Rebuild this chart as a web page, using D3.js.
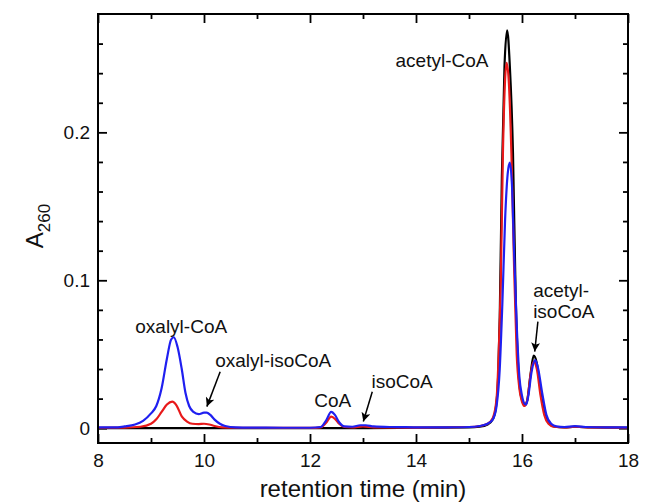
<!DOCTYPE html>
<html>
<head>
<meta charset="utf-8">
<script src="https://cdn.jsdelivr.net/npm/d3@7"></script>
<style>
  body { margin: 0; background: #fff; }
  svg { font-family: "Liberation Sans", Arial, sans-serif; }
</style>
</head>
<body>
<svg id="chart" width="652" height="503"></svg>
<script>
// chromatogram traces (retention time in min, A260)
const blackTime = [8.0, 9.0, 10.0, 11.0, 12.0, 13.0, 14.0, 15.0, 15.2, 15.35, 15.45, 15.5, 15.55, 15.58, 15.62, 15.67, 15.72, 15.77, 15.83, 15.88, 15.93, 15.98, 16.05, 16.1, 16.16, 16.22, 16.28, 16.35, 16.43, 16.52, 16.62, 16.8, 17.0, 17.3, 18.0]
const blackA    = [0, 0, 0, 0, 0, 0, 0.0003, 0.0005, 0.001, 0.0025, 0.006, 0.012, 0.035, 0.075, 0.17, 0.245, 0.269, 0.245, 0.186, 0.09, 0.04, 0.022, 0.0155, 0.019, 0.036, 0.049, 0.044, 0.026, 0.01, 0.003, 0.001, 0.0005, 0.001, 0.0005, 0.0003]

const redTime = [8.0, 8.5, 8.8, 9.0, 9.1, 9.2, 9.3, 9.4, 9.48, 9.58, 9.68, 9.78, 9.9, 10.0, 10.1, 10.2, 10.35, 10.6, 11.0, 12.0, 12.2, 12.3, 12.4, 12.48, 12.55, 12.65, 12.8, 13.0, 13.2, 14.0, 15.0, 15.2, 15.35, 15.45, 15.52, 15.56, 15.6, 15.64, 15.68, 15.71, 15.75, 15.8, 15.85, 15.9, 15.95, 16.0, 16.05, 16.1, 16.16, 16.22, 16.28, 16.35, 16.42, 16.5, 16.6, 16.8, 17.0, 17.3, 18.0]
const redA    = [0.0003, 0.0004, 0.001, 0.003, 0.006, 0.011, 0.016, 0.018, 0.0155, 0.008, 0.0045, 0.003, 0.0028, 0.003, 0.0025, 0.0015, 0.0006, 0.0003, 0.0003, 0.0002, 0.0006, 0.0035, 0.0078, 0.006, 0.003, 0.0008, 0.0005, 0.0012, 0.0006, 0.0004, 0.0008, 0.0015, 0.003, 0.007, 0.02, 0.05, 0.1, 0.186, 0.235, 0.247, 0.235, 0.186, 0.11, 0.05, 0.027, 0.018, 0.015, 0.019, 0.036, 0.045, 0.04, 0.022, 0.009, 0.003, 0.001, 0.0005, 0.001, 0.0005, 0.0003]

const blueTime = [8.0, 8.3, 8.5, 8.7, 8.85, 9.0, 9.1, 9.2, 9.3, 9.38, 9.43, 9.5, 9.58, 9.65, 9.72, 9.8, 9.9, 10.0, 10.05, 10.12, 10.2, 10.3, 10.4, 10.6, 11.0, 11.5, 12.0, 12.2, 12.3, 12.4, 12.47, 12.55, 12.65, 12.8, 12.95, 13.05, 13.2, 13.5, 13.8, 14.2, 14.6, 15.0, 15.2, 15.35, 15.45, 15.52, 15.58, 15.63, 15.68, 15.73, 15.77, 15.81, 15.85, 15.9, 15.95, 16.0, 16.05, 16.08, 16.12, 16.18, 16.25, 16.3, 16.38, 16.46, 16.55, 16.65, 16.8, 17.0, 17.2, 17.6, 18.0]
const blueA    = [0.0005, 0.0005, 0.0012, 0.0025, 0.005, 0.01, 0.015, 0.027, 0.047, 0.06, 0.0615, 0.055, 0.04, 0.024, 0.015, 0.011, 0.0095, 0.0105, 0.0105, 0.009, 0.0058, 0.003, 0.0015, 0.0006, 0.0004, 0.0003, 0.0003, 0.0008, 0.005, 0.011, 0.009, 0.004, 0.0012, 0.001, 0.002, 0.002, 0.0012, 0.0008, 0.0007, 0.0005, 0.0006, 0.0008, 0.0015, 0.003, 0.006, 0.015, 0.04, 0.085, 0.14, 0.172, 0.1795, 0.165, 0.12, 0.07, 0.035, 0.022, 0.0165, 0.016, 0.022, 0.038, 0.046, 0.041, 0.024, 0.009, 0.003, 0.0012, 0.0008, 0.0014, 0.0008, 0.0005, 0.0005]

const xMajorTicks = [8, 10, 12, 14, 16, 18]
const xMinorTicks = [9, 11, 13, 15, 17]
const yMajorTicks = [0, 0.1, 0.2]
const yMinorTicks = [0.02, 0.04, 0.06, 0.08, 0.12, 0.14, 0.16, 0.18, 0.22, 0.24, 0.26]

// peak labels: text, anchor point (t, A), optional arrow from -> to
const labels = [
  { lines: ["acetyl-CoA"], t: 14.49, a: 0.249, anchor: "middle" },
  { lines: ["oxalyl-CoA"], t: 9.57, a: 0.0686, anchor: "middle" },
  { lines: ["oxalyl-isoCoA"], t: 10.21, a: 0.0461, anchor: "start", arrow: [[10.305, 0.0382], [10.054, 0.0146]] },
  { lines: ["CoA"], t: 12.43, a: 0.0191, anchor: "middle" },
  { lines: ["isoCoA"], t: 13.16, a: 0.0315, anchor: "start", arrow: [[13.175, 0.0247], [13.006, 0.0045]] },
  { lines: ["acetyl-", "isoCoA"], t: 16.21, a: 0.0934, anchor: "start", arrow: [[16.3, 0.072], [16.24, 0.0518]] }
]

const width = 652
const height = 503
const margin = { top: 14, right: 24, bottom: 60, left: 98 }
const innerW = width - margin.left - margin.right
const innerH = height - margin.top - margin.bottom

const svg = d3.select("#chart")
const g = svg.append("g").attr("transform", `translate(${margin.left},${margin.top})`)

const x = d3.scaleLinear().domain([8, 18]).range([0, innerW])
const y = d3.scaleLinear().domain([-0.01, 0.28]).range([innerH, 0])

svg.append("defs").append("marker")
  .attr("id", "arrowhead")
  .attr("viewBox", "0 0 10 10")
  .attr("refX", 10).attr("refY", 5)
  .attr("markerWidth", 10).attr("markerHeight", 9)
  .attr("markerUnits", "userSpaceOnUse")
  .attr("orient", "auto")
  .append("path").attr("d", "M0,0 L10,5 L0,10 L2.5,5 Z").attr("fill", "#000")

function styleAxis(sel) {
  sel.select(".domain").remove()
  sel.selectAll(".tick line").attr("stroke", "#000").attr("stroke-width", 1.8)
  sel.selectAll(".tick text").attr("font-size", 19).attr("fill", "#111")
    .attr("font-family", "'Liberation Sans', Arial, sans-serif")
}

// bottom
g.append("g").attr("transform", `translate(0,${innerH})`)
  .call(d3.axisBottom(x).tickValues(xMajorTicks).tickSize(-9).tickPadding(11).tickFormat(d3.format("d")))
  .call(styleAxis)
g.append("g").attr("transform", `translate(0,${innerH})`)
  .call(d3.axisBottom(x).tickValues(xMinorTicks).tickSize(-5).tickFormat(""))
  .call(styleAxis)
// top
g.append("g")
  .call(d3.axisTop(x).tickValues(xMajorTicks).tickSize(-9).tickFormat(""))
  .call(styleAxis)
g.append("g")
  .call(d3.axisTop(x).tickValues(xMinorTicks).tickSize(-5).tickFormat(""))
  .call(styleAxis)
// left
g.append("g")
  .call(d3.axisLeft(y).tickValues(yMajorTicks).tickSize(-9).tickPadding(8).tickFormat(d => d === 0 ? "0" : d3.format(".1f")(d)))
  .call(styleAxis)
g.append("g")
  .call(d3.axisLeft(y).tickValues(yMinorTicks).tickSize(-5).tickFormat(""))
  .call(styleAxis)
// right
g.append("g").attr("transform", `translate(${innerW},0)`)
  .call(d3.axisRight(y).tickValues(yMajorTicks).tickSize(-9).tickFormat(""))
  .call(styleAxis)
g.append("g").attr("transform", `translate(${innerW},0)`)
  .call(d3.axisRight(y).tickValues(yMinorTicks).tickSize(-5).tickFormat(""))
  .call(styleAxis)

// traces, black under red under blue
const series = [
  { time: blackTime, values: blackA, color: "#000000" },
  { time: redTime, values: redA, color: "#e8191a" },
  { time: blueTime, values: blueA, color: "#1f1ff0" }
]
const line = d3.line()
  .x(d => x(d[0]))
  .y(d => y(d[1]))
  .curve(d3.curveMonotoneX)

series.forEach(s => {
  g.append("path")
    .datum(s.time.map((t, i) => [t, s.values[i]]))
    .attr("d", line)
    .attr("fill", "none")
    .attr("stroke", s.color)
    .attr("stroke-width", 2.2)
    .attr("stroke-linejoin", "round")
})

// frame
g.append("rect")
  .attr("width", innerW).attr("height", innerH)
  .attr("fill", "none").attr("stroke", "#000").attr("stroke-width", 2)

// labels
labels.forEach(l => {
  const txt = g.append("text")
    .attr("x", x(l.t)).attr("y", y(l.a))
    .attr("text-anchor", l.anchor)
    .attr("font-size", 19).attr("fill", "#111")
  l.lines.forEach((s, i) => {
    txt.append("tspan").attr("x", x(l.t)).attr("dy", i === 0 ? "0.35em" : "1.1em").text(s)
  })
  if (l.arrow) {
    g.append("line")
      .attr("x1", x(l.arrow[0][0])).attr("y1", y(l.arrow[0][1]))
      .attr("x2", x(l.arrow[1][0])).attr("y2", y(l.arrow[1][1]))
      .attr("stroke", "#000").attr("stroke-width", 1.5)
      .attr("marker-end", "url(#arrowhead)")
  }
})

// axis titles
svg.append("text")
  .attr("x", margin.left + innerW / 2).attr("y", 497)
  .attr("text-anchor", "middle")
  .attr("font-size", 24).attr("fill", "#111")
  .text("retention time (min)")

const yTitle = svg.append("text")
  .attr("transform", "translate(43,226) rotate(-90)")
  .attr("text-anchor", "middle")
  .attr("font-size", 24).attr("fill", "#111")
yTitle.append("tspan").text("A")
yTitle.append("tspan").attr("font-size", 17).attr("dy", 7).text("260")
</script>
</body>
</html>
